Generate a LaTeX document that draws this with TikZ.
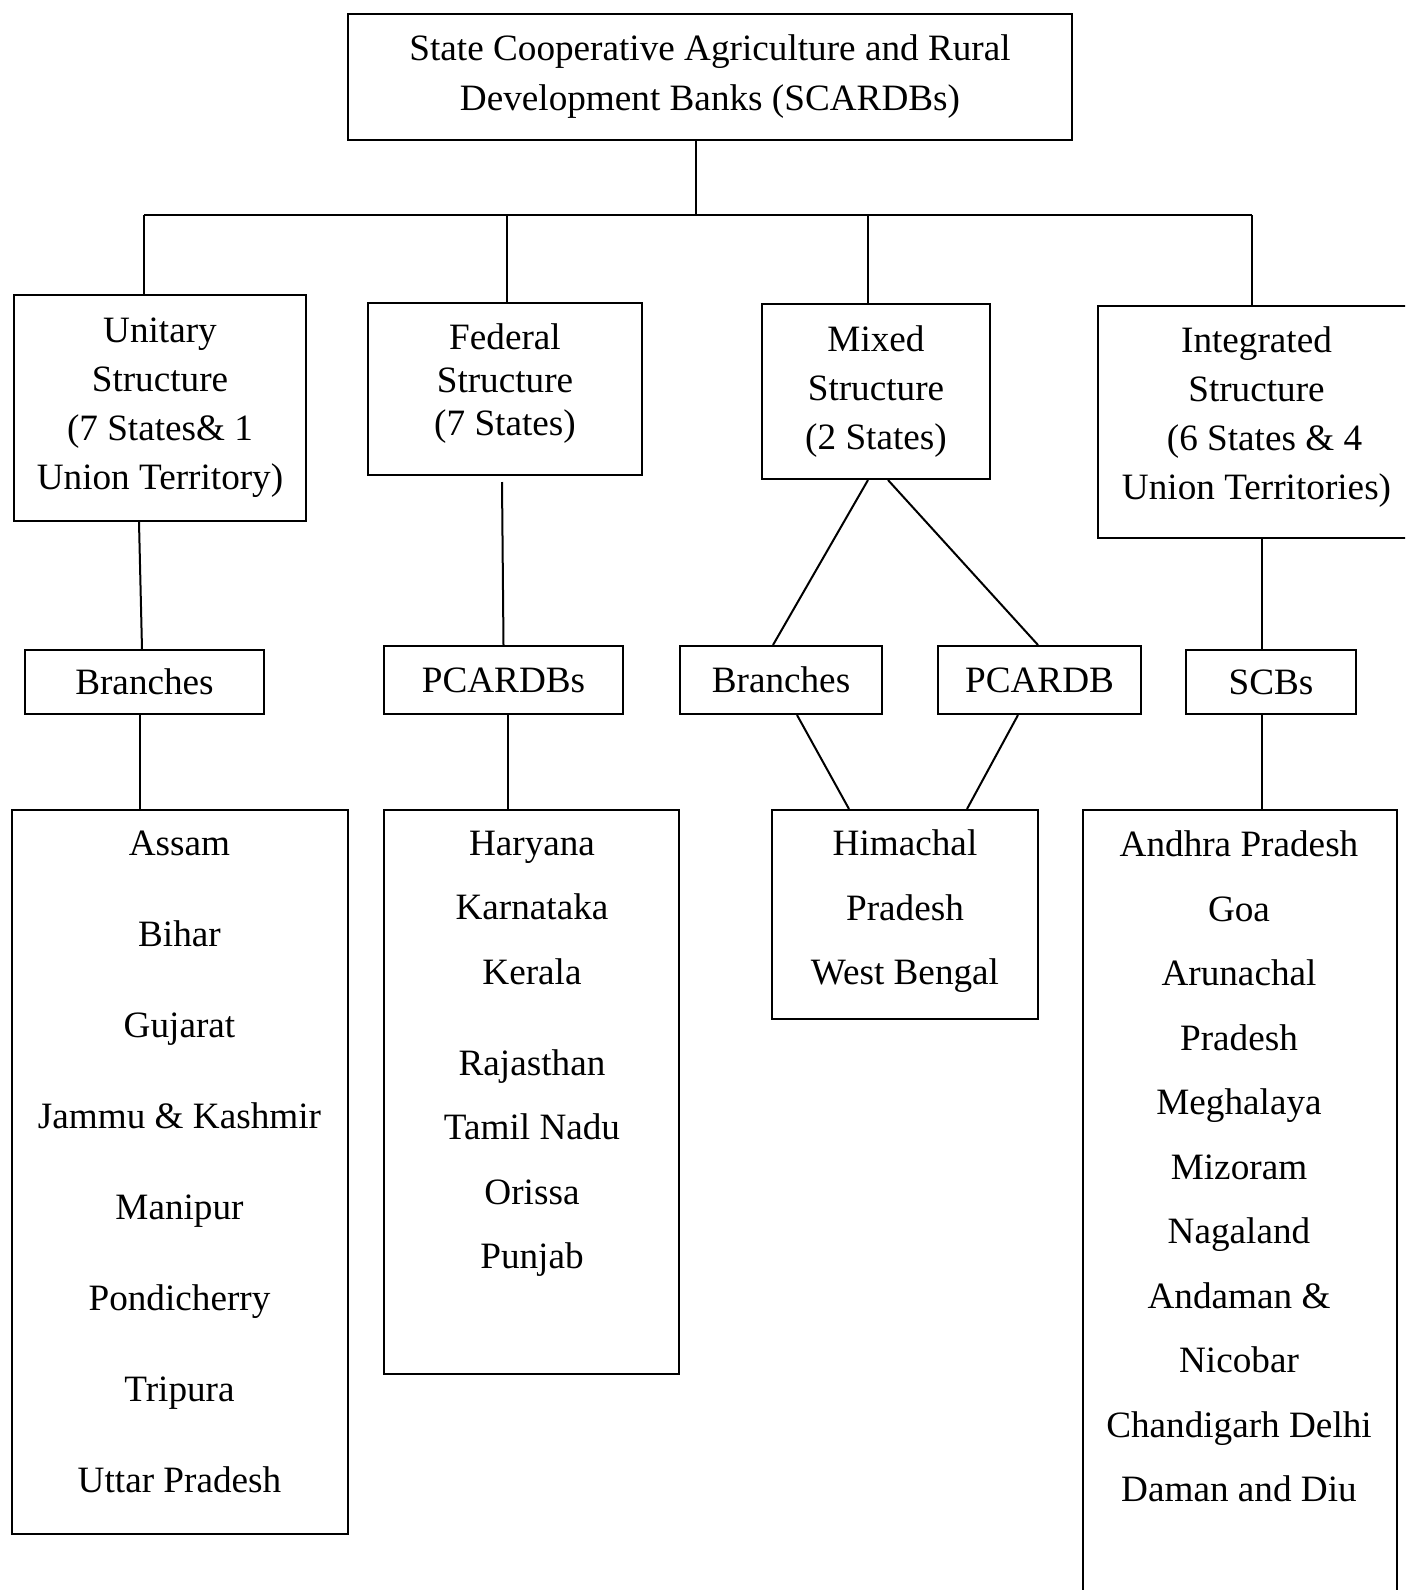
\documentclass[tikz,border=0pt]{standalone}
\usepackage{fontspec}
\setmainfont{Liberation Serif}

\begin{document}
\begin{tikzpicture}[x=0.5pt, y=-0.5pt, line width=1pt,
  box/.style={draw, rectangle, inner sep=0pt, align=center,
    font=\fontsize{18.6}{24.5}\selectfont},
  listtext/.style={inner sep=0pt, anchor=north, align=center}]

\useasboundingbox (0,0) rectangle (1405,1590);
\clip (0,0) rectangle (1405,1590);

% Nodes
\node[box, minimum width=362pt, minimum height=63pt, font=\fontsize{18.6}{25}\selectfont] (top) at (710,77)
  {State Cooperative Agriculture and Rural\\Development Banks (SCARDBs)};
\node[box, minimum width=146pt, minimum height=113pt] (unitary) at (160,408)
  {Unitary\\Structure\\(7 States\& 1\\Union Territory)};
\node[box, minimum width=137pt, minimum height=86pt, text depth=9pt, font=\fontsize{18.6}{21.5}\selectfont] (federal) at (505,389)
  {Federal\\Structure\\(7 States)};
\node[box, minimum width=114pt, minimum height=87.5pt] (mixed) at (876,391.5)
  {Mixed\\Structure\\(2 States)};
\node[box, minimum width=158.5pt, minimum height=116pt, text depth=9pt] (integrated) at (1256.5,422)
  {Integrated\\Structure\\\hspace*{8pt}(6 States \& 4\\Union Territories)};

\node[box, minimum width=119.5pt, minimum height=32pt] (bru) at (144.5,682) {Branches};
\node[box, minimum width=119.5pt, minimum height=34pt] (pcs) at (503.5,680) {PCARDBs};
\node[box, minimum width=101pt, minimum height=34pt] (brm) at (781,680) {Branches};
\node[box, minimum width=101.5pt, minimum height=34pt] (pcm) at (1039.5,680) {PCARDB};
\node[box, minimum width=85pt, minimum height=32pt] (scb) at (1271,682) {SCBs};

\node[box, minimum width=168pt, minimum height=362pt] (lu) at (180,1172) {};
\node[box, minimum width=147.5pt, minimum height=282pt] (lf) at (531.5,1092) {};
\node[box, minimum width=133pt, minimum height=104.5pt] (lm) at (905,914.5) {};
\node[box, minimum width=157pt, minimum height=400pt] (li) at (1240,1210) {};

% Lists
\node[listtext, font=\fontsize{18.6}{45.5}\selectfont] (lutext) at (179.5,830)
  {Assam\\Bihar\\Gujarat\\Jammu \& Kashmir\\Manipur\\Pondicherry\\Tripura\\Uttar Pradesh};
\node[listtext, font=\fontsize{18.6}{32.3}\selectfont] (lftext) at (532,830)
  {Haryana\\Karnataka\\Kerala\\[13pt]Rajasthan\\Tamil Nadu\\Orissa\\Punjab};
\node[listtext, font=\fontsize{18.6}{32.2}\selectfont] (lmtext) at (905,829)
  {Himachal\\Pradesh\\West Bengal};
\node[listtext, font=\fontsize{18.6}{32.25}\selectfont] (litext) at (1239,830)
  {Andhra Pradesh\\Goa\\Arunachal\\Pradesh\\Meghalaya\\Mizoram\\Nagaland\\Andaman \&\\Nicobar\\Chandigarh Delhi\\Daman and Diu};

% Bus
\coordinate (bus) at (696,215);
\coordinate (busL) at (144,215);
\coordinate (busF) at (507,215);
\coordinate (busM) at (868,215);
\coordinate (busR) at (1252,215);
\draw (bus |- top.south) -- (bus);
\draw (busL) -- (busR);
\draw (busL) -- (busL |- unitary.north);
\draw (busF) -- (busF |- federal.north);
\draw (busM) -- (busM |- mixed.north);
\draw (busR) -- (busR |- integrated.north);

% Unitary
\draw ([xshift=-10.5pt]unitary.south) -- ([xshift=-1.25pt]bru.north);
\draw ([xshift=-2.25pt]bru.south) -- ([xshift=-2.25pt]bru.south |- lu.north);

% Federal
\draw ([xshift=-1.5pt, yshift=-3pt]federal.south) -- (pcs.north);
\draw ([xshift=2.25pt]pcs.south) -- ([xshift=2.25pt]pcs.south |- lf.north);

% Mixed
\draw ([xshift=-4pt]mixed.south) -- ([xshift=-4pt]brm.north);
\draw ([xshift=6pt]mixed.south) -- ([xshift=-0.75pt]pcm.north);
\draw ([xshift=8pt]brm.south) -- ([xshift=-28pt]lm.north);
\draw ([xshift=-10.75pt]pcm.south) -- ([xshift=31pt]lm.north);

% Integrated
\draw ([xshift=-4.5pt]scb.north) -- ([xshift=-4.5pt]scb.north |- integrated.south);
\draw ([xshift=-4.5pt]scb.south) -- ([xshift=-4.5pt]scb.south |- li.north);

\end{tikzpicture}
\end{document}
